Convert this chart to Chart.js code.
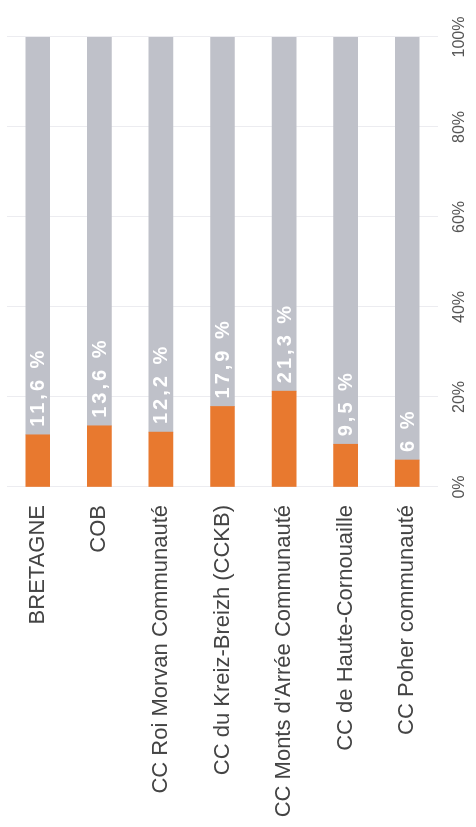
<!DOCTYPE html>
<html>
<head>
<meta charset="utf-8">
<script src="https://cdn.jsdelivr.net/npm/chart.js@4.4.1/dist/chart.umd.min.js"></script>
<style>
  html, body { margin: 0; padding: 0; background: #fff; overflow: hidden; }
  #wrap { position: relative; width: 476px; height: 827px; overflow: hidden; }
  /* the chart is drawn as a horizontal bar chart and turned a quarter turn */
  #chart {
    position: absolute; left: 0; top: 0;
    width: 827px; height: 476px;
    transform-origin: 0 0;
    transform: translate(0, 827px) rotate(-90deg);
  }
</style>
</head>
<body>
<div id="wrap"><canvas id="chart" width="827" height="476"></canvas></div>
<script>
const categories = [
  'BRETAGNE',
  'COB',
  'CC Roi Morvan Communauté',
  'CC du Kreiz-Breizh (CCKB)',
  "CC Monts d'Arrée Communauté",
  'CC de Haute-Cornouaille',
  'CC Poher communauté',
];
const shares = [11.6, 13.6, 12.2, 17.9, 21.3, 9.5, 6];
const remainder = [88.4, 86.4, 87.8, 82.1, 78.7, 90.5, 94];
const percentTicks = [0, 20, 40, 60, 80, 100];

const ORANGE = '#e8792f';
const GREY = '#bfc1c9';

function frPercent(v) {
  return String(v).replace('.', ',') + ' %';
}

// White value labels just past the end of each orange segment.
const valueLabels = {
  id: 'valueLabels',
  afterDatasetsDraw(chart) {
    const { ctx } = chart;
    const meta = chart.getDatasetMeta(0);
    ctx.save();
    ctx.font = 'bold 20px "Liberation Sans", Arial, sans-serif';
    if ('letterSpacing' in ctx) ctx.letterSpacing = '3px';
    ctx.fillStyle = '#ffffff';
    ctx.textAlign = 'left';
    ctx.textBaseline = 'middle';
    meta.data.forEach((bar, i) => {
      ctx.fillText(frPercent(shares[i]), bar.x + 8, bar.y + 1);
    });
    ctx.restore();
  },
};

function noScalePadding(scale) {
  scale.paddingTop = 0;
  scale.paddingBottom = 0;
  scale.paddingLeft = 0;
  scale.paddingRight = 0;
}

new Chart(document.getElementById('chart'), {
  type: 'bar',
  data: {
    labels: categories,
    datasets: [
      { label: 'part', data: shares, backgroundColor: ORANGE, barThickness: 24 },
      { label: 'reste', data: remainder, backgroundColor: GREY, barThickness: 24 },
    ],
  },
  options: {
    indexAxis: 'y',
    responsive: false,
    animation: false,
    events: [],
    layout: { padding: { top: 7, right: 37, bottom: 0, left: 0 } },
    plugins: { legend: { display: false }, tooltip: { enabled: false } },
    scales: {
      x: {
        stacked: true,
        min: 0,
        max: 100,
        afterBuildTicks(scale) {
          scale.ticks = percentTicks.map((v) => ({ value: v }));
        },
        afterFit(scale) {
          scale.height = 38;
          noScalePadding(scale);
        },
        ticks: {
          color: '#555',
          font: { family: '"Liberation Sans", Arial, sans-serif', size: 16 },
          padding: 12,
          maxRotation: 0,
          callback: (v) => v + '%',
        },
        grid: { color: '#ececf0', lineWidth: 1, drawTicks: false },
        border: { display: false },
      },
      y: {
        stacked: true,
        afterFit(scale) {
          scale.width = 340;
          noScalePadding(scale);
        },
        ticks: {
          color: '#444',
          font: { family: '"Liberation Sans", Arial, sans-serif', size: 22 },
          padding: 18,
        },
        grid: { display: false, drawTicks: false },
        border: { display: false },
      },
    },
  },
  plugins: [valueLabels],
});
</script>
</body>
</html>
